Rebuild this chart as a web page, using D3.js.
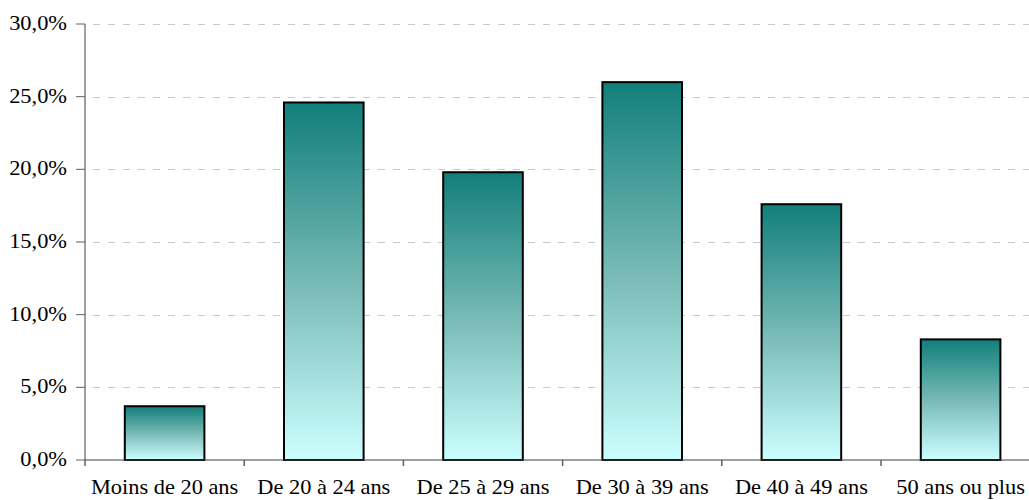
<!DOCTYPE html>
<html>
<head>
<meta charset="utf-8">
<script src="https://cdn.jsdelivr.net/npm/d3@7"></script>
<style>
  body { margin: 0; background: #fff; }
  svg { display: block; }
  text { font-family: "Liberation Serif", "Times New Roman", serif; font-size: 20px; fill: #000; }
</style>
</head>
<body>
<svg id="chart" width="1029" height="500"></svg>
<script>
var categories = ["Moins de 20 ans", "De 20 à 24 ans", "De 25 à 29 ans", "De 30 à 39 ans", "De 40 à 49 ans", "50 ans ou plus"];
var values = [3.7, 24.6, 19.8, 26.0, 17.6, 8.3];
var yTicks = [0, 5, 10, 15, 20, 25, 30];

var svg = d3.select("#chart");
var plotLeft = 85, step = 159.2, plotTop = 24, plotBottom = 460;
var stretch = 1.12;

var x = d3.scaleBand()
    .domain(categories)
    .range([plotLeft, plotLeft + step * categories.length])
    .paddingInner(0.5)
    .paddingOuter(0.25);

var y = d3.scaleLinear().domain([0, 30]).range([plotBottom, plotTop]);

var fmt = function (d) { return d.toFixed(1).replace(".", ",") + "%"; };

// gradient for the bars, dark teal at top to pale cyan at bottom
var grad = svg.append("defs").append("linearGradient")
    .attr("id", "barGrad")
    .attr("x1", 0).attr("y1", 0).attr("x2", 0).attr("y2", 1);
grad.append("stop").attr("offset", "0%").attr("stop-color", "#127f7b");
grad.append("stop").attr("offset", "50%").attr("stop-color", "#76b9b5");
grad.append("stop").attr("offset", "100%").attr("stop-color", "#ccffff");

// dashed gridlines
svg.append("g")
    .selectAll("line")
    .data(yTicks.filter(function (d) { return d > 0; }))
    .enter().append("line")
    .attr("x1", plotLeft + 8)
    .attr("x2", 1029)
    .attr("y1", function (d) { return Math.round(y(d)) + 0.5; })
    .attr("y2", function (d) { return Math.round(y(d)) + 0.5; })
    .attr("stroke", "#c8c8c8")
    .attr("stroke-width", 1)
    .attr("stroke-dasharray", "7,8");

// bars
svg.append("g")
    .selectAll("rect")
    .data(values)
    .enter().append("rect")
    .attr("x", function (d, i) { return x(categories[i]); })
    .attr("y", function (d) { return y(d); })
    .attr("width", x.bandwidth())
    .attr("height", function (d) { return plotBottom - y(d); })
    .attr("fill", "url(#barGrad)")
    .attr("stroke", "#000")
    .attr("stroke-width", 2);

// y axis
var yAxis = svg.append("g").attr("transform", "translate(" + plotLeft + ",0)");
yAxis.append("line")
    .attr("x1", 0).attr("x2", 0)
    .attr("y1", y(30)).attr("y2", plotBottom)
    .attr("stroke", "#808080").attr("stroke-width", 1.5);
yAxis.selectAll(".tick")
    .data(yTicks)
    .enter().append("line")
    .attr("x1", -9).attr("x2", 0)
    .attr("y1", function (d) { return y(d); })
    .attr("y2", function (d) { return y(d); })
    .attr("stroke", "#606060").attr("stroke-width", 1);
yAxis.selectAll("text")
    .data(yTicks)
    .enter().append("text")
    .attr("transform", function (d) { return "translate(-18," + (y(d) + 6) + ") scale(" + stretch + ",1)"; })
    .attr("text-anchor", "end")
    .text(fmt);

// x axis
var xAxis = svg.append("g");
xAxis.append("line")
    .attr("x1", plotLeft).attr("x2", 1029)
    .attr("y1", plotBottom).attr("y2", plotBottom)
    .attr("stroke", "#404040").attr("stroke-width", 1.2);
xAxis.selectAll(".tick")
    .data(d3.range(categories.length + 1))
    .enter().append("line")
    .attr("x1", function (i) { return plotLeft + i * x.step(); })
    .attr("x2", function (i) { return plotLeft + i * x.step(); })
    .attr("y1", plotBottom).attr("y2", plotBottom + 6)
    .attr("stroke", "#606060").attr("stroke-width", 1.5);
xAxis.selectAll("text")
    .data(categories)
    .enter().append("text")
    .attr("transform", function (d) { return "translate(" + (x(d) + x.bandwidth() / 2) + ",494) scale(" + stretch + ",1)"; })
    .attr("text-anchor", "middle")
    .text(function (d) { return d; });
</script>
</body>
</html>
